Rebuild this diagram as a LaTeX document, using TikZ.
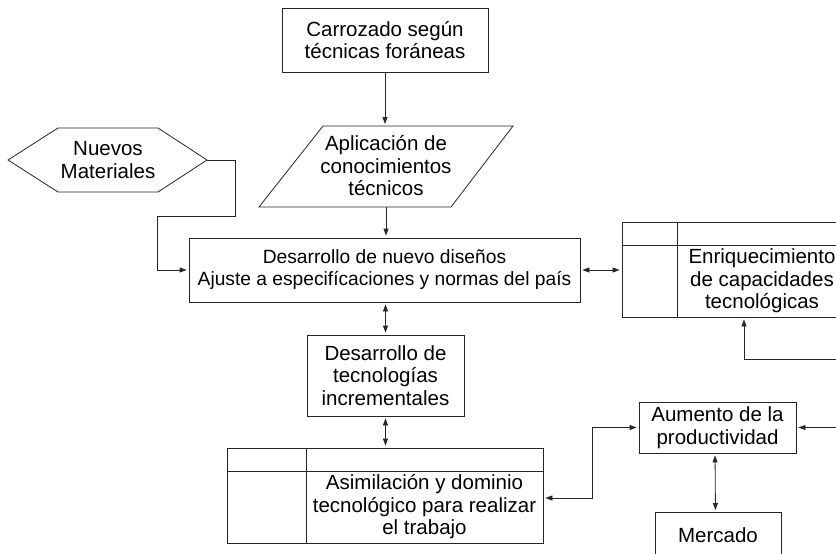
\documentclass[tikz,border=0pt]{standalone}
\usepackage{fontspec}
\setmainfont{Liberation Sans}
\usetikzlibrary{arrows.meta}
\begin{document}
\begin{tikzpicture}[x=1pt,y=-1pt,
  line width=0.8pt,
  color=black!85,
  box/.style={draw, rectangle, inner sep=0pt, align=center, text=black, font=\fontsize{20.5}{22.5}\selectfont},
  lbl/.style={inner sep=0pt, align=center, text=black, font=\fontsize{20.5}{22.5}\selectfont},
  tbl/.style={draw, rectangle, inner sep=0pt},
  arr/.style={-{Triangle[length=7pt,width=5pt]}, shorten >=2pt},
  darr/.style={{Triangle[length=7pt,width=5pt]}-{Triangle[length=7pt,width=5pt]}, shorten >=2pt, shorten <=2pt},
]
\useasboundingbox (0,0) rectangle (836,554);
\clip (0,0) rectangle (836,554);

% top box
\node[box, minimum width=206pt, minimum height=64pt] (carro) at (385,40) {Carrozado según\\técnicas foráneas};

% parallelogram
\draw (323,126) -- (513,126) -- (451,207) -- (259,207) -- cycle;
\node[lbl] (aplic) at (386,166) {Aplicación de\\conocimientos\\técnicos};
\coordinate (aplTop) at (386,126);
\coordinate (aplBot) at (386,207);

% hexagon
\draw (8,160) -- (58,128) -- (158,128) -- (207,160) -- (158,192) -- (58,192) -- cycle;
\node[lbl] (hex) at (108,160) {Nuevos\\Materiales};
\coordinate (hexR) at (207,160);

% main box
\node[box, minimum width=391pt, minimum height=64pt, font=\fontsize{19.2}{22}\selectfont] (main) at (384.5,270) {Desarrollo de nuevo diseños\\Ajuste a especifícaciones y normas del país};

% Enriquecimiento table
\node[tbl, minimum width=225pt, minimum height=95pt] (enrT) at (734.5,269.5) {};
\draw (622,245) -- (847,245);
\draw (677,222) -- (677,317);
\node[lbl] (enr) at (762,281) {Enriquecimiento\\de capacidades\\tecnológicas};

% incremental technologies
\node[box, minimum width=157pt, minimum height=81pt] (tec) at (385.5,375.5) {Desarrollo de\\tecnologías\\incrementales};

% Asimilacion table
\node[tbl, minimum width=316pt, minimum height=95pt] (asimT) at (385,495.5) {};
\draw (227,471) -- (543,471);
\draw (306,448) -- (306,543);
\node[lbl] (asim) at (424.5,507) {Asimilación y dominio\\tecnológico para realizar\\el trabajo};

% Aumento
\node[box, minimum width=157pt, minimum height=51pt] (aum) at (717.5,427.5) {Aumento de la\\productividad};

% Mercado
\node[box, minimum width=126pt, minimum height=46pt, anchor=north] (merc) at (718,512) {Mercado};

% off-picture ends
\coordinate (fbR) at (840,359);
\coordinate (aumR) at (840,427.5);

% connectors
\draw[arr] (carro.south) -- (carro.south |- aplTop);
\draw[arr] (aplBot) -- (aplBot |- main.north);
\draw[arr] (hexR) -- (235,160) -- (235,216) -- (157,216) -- (157,270) -- (main.west);
\draw[darr] (main.east) -- (main.east -| enrT.west);
\draw[arr] (fbR) -| ([xshift=9.5pt]enrT.south);
\draw[darr] (main.south -| tec.north) -- (tec.north);
\draw[darr] (tec.south) -- (tec.south |- asimT.north);
\draw[darr] ([yshift=-2.5pt]asimT.east) -- ++(49,0) |- (aum.west);
\draw[arr] (aumR) -- (aum.east);
\draw[darr] ([xshift=-2.5pt]aum.south) -- ([xshift=-2.5pt]merc.north);
\end{tikzpicture}
\end{document}
